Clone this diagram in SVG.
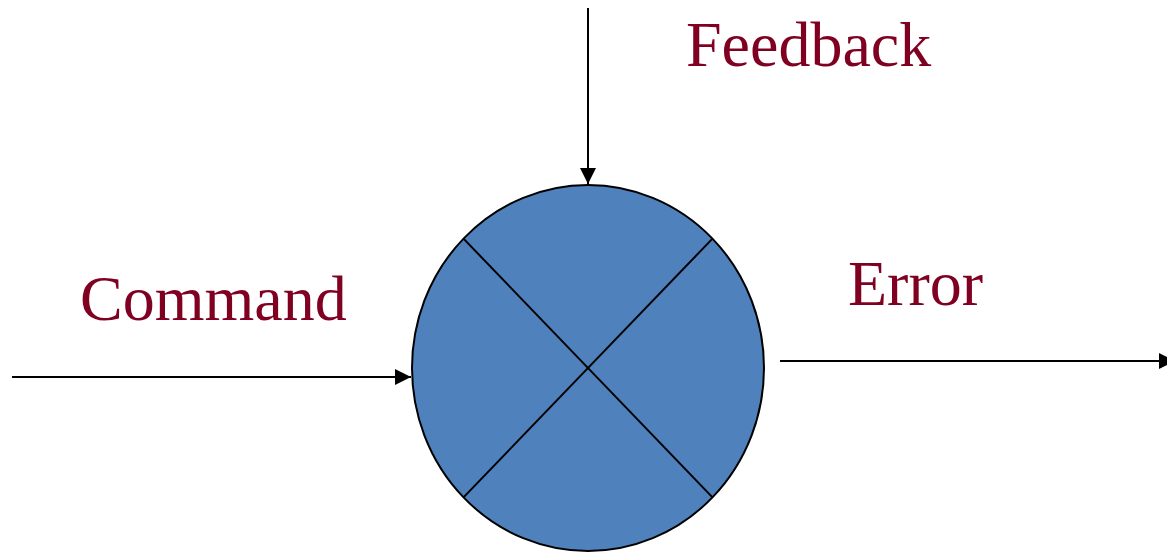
<svg xmlns="http://www.w3.org/2000/svg" width="1167" height="552" viewBox="0 0 1167 552">
<defs>
<style>
.lbl{font-family:"Liberation Serif","Times New Roman",serif;font-size:64px;fill:#7F0020;}
.conn{stroke:#000;stroke-width:2;fill:none;}
</style>
<marker id="ah" markerWidth="16" markerHeight="16" refX="16" refY="8" orient="auto" markerUnits="userSpaceOnUse">
<path d="M0,0 L16,8 L0,16 Z" fill="#000"/>
</marker>
</defs>
<rect width="1167" height="552" fill="#fff"/>
<g id="summing-junction">
<ellipse cx="588" cy="368" rx="176" ry="183" fill="#4F81BD" stroke="#000" stroke-width="2"/>
<line x1="463.5" y1="238.6" x2="712.5" y2="497.4" stroke="#000" stroke-width="2"/>
<line x1="712.5" y1="238.6" x2="463.5" y2="497.4" stroke="#000" stroke-width="2"/>
</g>
<g id="connectors">
<line class="conn" x1="12" y1="377" x2="411" y2="377" marker-end="url(#ah)"/>
<line class="conn" x1="588" y1="8" x2="588" y2="184" marker-end="url(#ah)"/>
<line class="conn" x1="780" y1="361" x2="1175" y2="361" marker-end="url(#ah)"/>
</g>
<g id="label-feedback"><text class="lbl" x="686" y="66">Feedback</text></g>
<g id="label-command"><text class="lbl" x="80" y="320">Command</text></g>
<g id="label-error"><text class="lbl" x="848" y="305">Error</text></g>
</svg>
